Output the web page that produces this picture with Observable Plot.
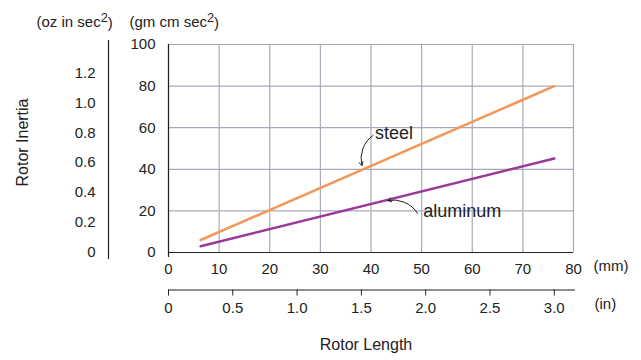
<!DOCTYPE html>
<html>
<head>
<meta charset="utf-8">
<script src="https://cdn.jsdelivr.net/npm/d3@7"></script>
<script src="https://cdn.jsdelivr.net/npm/@observablehq/plot@0.6"></script>
<style>
  html, body { margin: 0; padding: 0; background: #fff; }
</style>
</head>
<body>
<div id="chart"></div>
<script>
// Rotor length (mm) at the two ends of each line
const lengthMm = [6.35, 76.2];
// Rotor inertia (gm cm sec²) for each material
const steel = [6, 80];
const aluminum = [3, 45.2];

// Tick values
const mmTicks = [0, 10, 20, 30, 40, 50, 60, 70, 80];
const inTicks = [0, 0.5, 1.0, 1.5, 2.0, 2.5, 3.0];
const gmTicks = [0, 20, 40, 60, 80, 100];
const ozTicks = [0, 0.2, 0.4, 0.6, 0.8, 1.0, 1.2];

// Unit conversions
const MM_PER_IN = 25.4;
const GMCM_PER_OZIN = 72.0;

// Labels with curved arrows pointing at each line
const labelNames = ["steel", "aluminum"];
const labelX = [40.8, 50.3];
const labelY = [57.2, 19.7];
const arrowFrom = [[40.4, 56.3], [49.2, 18.8]];
const arrowTo = [[38.2, 41.8], [43.3, 25]];
const arrowBend = [-35, -35];

const series = [
  ...lengthMm.map((x, i) => ({material: "steel", x, y: steel[i]})),
  ...lengthMm.map((x, i) => ({material: "aluminum", x, y: aluminum[i]}))
];
const labels = labelNames.map((name, i) => ({name, x: labelX[i], y: labelY[i]}));
const arrows = labelNames.map((name, i) => ({
  name, x1: arrowFrom[i][0], y1: arrowFrom[i][1], x2: arrowTo[i][0], y2: arrowTo[i][1], bend: arrowBend[i]
}));

const ink = "#222";
const gridColor = "#a7abb8";
const fmt1 = (v) => v === 0 ? "0" : v.toFixed(1);

const chart = Plot.plot({
  width: 641,
  height: 360,
  marginLeft: 168,
  marginRight: 68,
  marginTop: 44,
  marginBottom: 108,
  style: {fontFamily: "'Liberation Sans', Arial, sans-serif", fontSize: "15px", color: ink, background: "#fff"},
  x: {domain: [0, 80]},
  y: {domain: [0, 100]},
  color: {domain: ["steel", "aluminum"], range: ["#f3975a", "#9a389c"]},
  marks: [
    // grid
    Plot.gridX(mmTicks, {stroke: gridColor, strokeOpacity: 1, strokeWidth: 1.2}),
    Plot.gridY(gmTicks, {stroke: gridColor, strokeOpacity: 1, strokeWidth: 1.2}),
    // main axes lines
    Plot.ruleY([0], {stroke: ink, strokeWidth: 1.2}),
    Plot.ruleX([0], {stroke: ink, strokeWidth: 1.2, insetBottom: -5}),
    // gm cm sec² axis
    Plot.axisY(gmTicks, {tickSize: 0, tickPadding: 13, tickFormat: (d) => String(d), fill: ink}),
    // oz in sec² axis, offset to the left
    Plot.ruleX([0], {stroke: ink, strokeWidth: 1.2, dx: -60, insetTop: -4, insetBottom: -7}),
    Plot.axisY(ozTicks.map((v) => v * GMCM_PER_OZIN), {
      tickSize: 0, tickPadding: 13, dx: -60, fill: ink,
      tickFormat: (d) => fmt1(Math.round(d / GMCM_PER_OZIN * 10) / 10)
    }),
    // mm axis
    Plot.axisX(mmTicks, {tickSize: 0, tickPadding: 11, tickFormat: (d) => String(d), fill: ink}),
    // inch axis, offset below
    Plot.ruleY([0], {stroke: ink, strokeWidth: 1.2, dy: 37.5, insetRight: -2}),
    Plot.axisX(inTicks.map((v) => v * MM_PER_IN), {
      tickSize: 6, tickPadding: 6, dy: 37.5, stroke: ink, fill: ink,
      tickFormat: (d) => fmt1(Math.round(d / MM_PER_IN * 10) / 10)
    }),
    // lines
    Plot.line(series, {x: "x", y: "y", z: "material", stroke: "material", strokeWidth: 2.6}),
    // annotations
    ...arrows.map((a) => Plot.arrow([a], {
      x1: "x1", y1: "y1", x2: "x2", y2: "y2", bend: a.bend,
      stroke: ink, strokeWidth: 1, headLength: 6
    })),
    Plot.text(labels, {x: "x", y: "y", text: "name", textAnchor: "start", fontSize: 18, fill: ink}),
    // unit captions
    Plot.text(["(oz in sec²)"], {frameAnchor: "top-left", textAnchor: "start", dx: -132, dy: -28, fill: ink}),
    Plot.text(["(gm cm sec²)"], {frameAnchor: "top-left", textAnchor: "start", dx: -39, dy: -28, fill: ink}),
    Plot.text(["(mm)"], {frameAnchor: "bottom-right", textAnchor: "start", dx: 20, dy: 18, fill: ink}),
    Plot.text(["(in)"], {frameAnchor: "bottom-right", textAnchor: "start", dx: 21, dy: 56, fill: ink}),
    // axis titles
    Plot.text(["Rotor Inertia"], {frameAnchor: "left", textAnchor: "middle", rotate: -90, dx: -146, dy: -6, fontSize: 16, fill: ink}),
    Plot.text(["Rotor Length"], {frameAnchor: "bottom", textAnchor: "middle", dx: -5, dy: 97, fontSize: 16, fill: ink})
  ]
});

// Render the squared units with a raised "2"
d3.select(chart).selectAll("text").each(function () {
  const t = this.textContent;
  if (!t.includes("²")) return;
  const el = d3.select(this);
  const [before, after] = t.split("²");
  el.text(null);
  el.append("tspan").text(before);
  el.append("tspan").attr("dy", "-0.4em").attr("font-size", "0.85em").text("2");
  el.append("tspan").attr("dy", "0.4em").text(after);
});

document.getElementById("chart").append(chart);
</script>
</body>
</html>
